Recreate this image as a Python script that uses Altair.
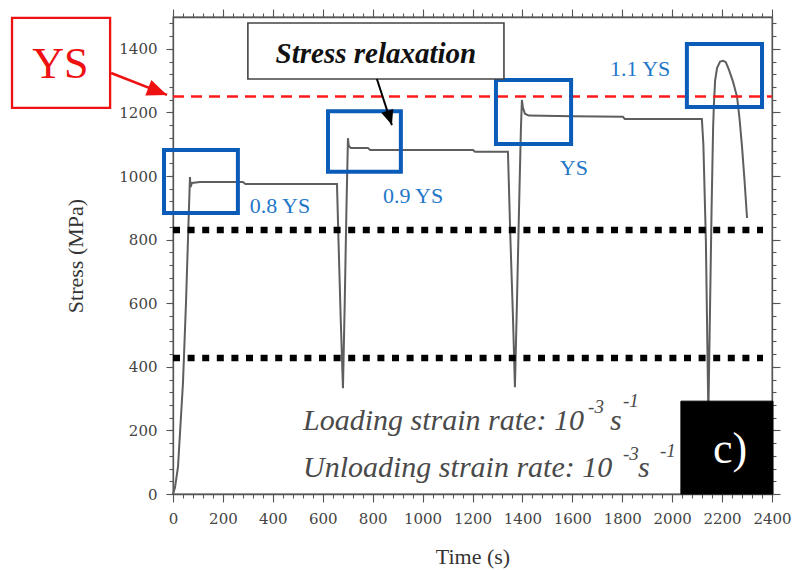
import altair as alt
import pandas as pd

# ---------------- data ----------------
time_s = [0, 8, 20, 40, 52, 62, 68, 70, 76, 108, 280, 290, 657, 663, 672, 681,
          688, 695, 701, 704, 712, 781, 790, 1202, 1210, 1342, 1352, 1362, 1370,
          1378, 1388, 1394, 1398, 1402, 1410, 1425, 1600, 1803, 1810, 2119, 2125,
          2135, 2145, 2152, 2158, 2164, 2167, 2172, 2180, 2192, 2204, 2215, 2228,
          2244, 2260, 2270, 2280, 2290, 2300]
stress_mpa = [0, 20, 85, 350, 600, 850, 997, 965, 978, 981, 981, 975, 975, 800, 550, 333,
              600, 900, 1119, 1095, 1088, 1088, 1082, 1082, 1076, 1076, 800, 560, 336,
              600, 950, 1150, 1239, 1215, 1196, 1190, 1188, 1186, 1179, 1179, 1100,
              800, 250, 600, 900, 1150, 1220, 1300, 1340, 1360, 1362, 1358, 1333,
              1296, 1249, 1180, 1091, 985, 868]

ys_level = [1250]
dotted_levels = [830, 428]
dotted_start = [0, 0]
dotted_end = [2364, 2364]

box_t0 = [-36, 621, 1294, 2059]
box_t1 = [260, 913, 1595, 2360]
box_s0 = [884, 1013, 1101, 1217]
box_s1 = [1082, 1204, 1302, 1415]
box_labels = ["0.8 YS", "0.9 YS", "YS", "1.1 YS"]
label_t = [308, 841, 1550, 1751]
label_s = [884, 915, 1003, 1314]

red_box = dict(t0=[-645], t1=[-252], s0=[1214], s1=[1497])
red_text = dict(t=[-451], s=[1308], label=["YS"])
red_arrow = dict(t0=[-248], s0=[1324], t1=[-24], s1=[1255])

relax_box = dict(t0=[300], t1=[1326], s0=[1305], s1=[1481])
relax_text = dict(t=[813], s=[1355], label=["Stress relaxation"])
relax_arrow = dict(t0=[817], s0=[1305], t1=[877], s1=[1160])

rate_text = ["Loading strain rate: 10", "Unloading strain rate: 10"]
rate_t = [521, 521]
rate_s = [201, 53]
unit_text = ["s", "s"]
unit_t = [1751, 1863]
unit_s = [201, 53]
sup_text = ["-3", "-1", "-3", "-1"]
sup_t = [1663, 1803, 1803, 1951]
sup_s = [255, 274, 107, 116]

panel_box = dict(t0=[2035], t1=[2404], s0=[0], s1=[292])
panel_text = dict(t=[2232], s=[97], label=["c)"])

x_major = list(range(0, 2401, 200))
x_minor = list(range(0, 2401, 40))
y_major = list(range(0, 1501, 200))
y_minor = list(range(0, 1501, 40))

# ---------------- chart ----------------
XS = alt.Scale(domain=[0, 2400], nice=False, zero=False)
YS = alt.Scale(domain=[0, 1500], nice=False, zero=False)
SERIF = "Liberation Serif"
AX = "#555555"

def X(f, axis=None):
    if axis is None:
        return alt.X(f, type="quantitative", scale=XS, axis=None)
    return alt.X(f, type="quantitative", scale=XS, axis=axis)

def Y(f, axis=None):
    if axis is None:
        return alt.Y(f, type="quantitative", scale=YS, axis=None)
    return alt.Y(f, type="quantitative", scale=YS, axis=axis)

ax_bottom = alt.Axis(orient="bottom", values=x_major, tickSize=8, labelFont="DejaVu Serif",
                     labelFontSize=15, labelColor="#444", labelPadding=9, format="d",
                     labelOverlap=False, labelFlush=False,
                     title="Time (s)", titleFont=SERIF, titleFontSize=22, titleFontWeight="normal",
                     titleColor="#333", titleX=299.5, titleY=62, titleBaseline="middle")
ax_bottom_minor = alt.Axis(orient="bottom", values=x_minor, tickSize=4, labels=False,
                           domain=False, title="")
ax_top = alt.Axis(orient="top", values=x_major, tickSize=8, labels=False, title="")
ax_top_minor = alt.Axis(orient="top", values=x_minor, tickSize=4, labels=False,
                        domain=False, title="")
ax_left = alt.Axis(orient="left", values=y_major, tickSize=7, labelFont="DejaVu Serif",
                   labelFontSize=15, labelColor="#444", labelPadding=9, format="d",
                   labelOverlap=False, labelFlush=False,
                   title="Stress (MPa)", titleFont=SERIF, titleFontSize=22, titleFontWeight="normal",
                   titleColor="#333", titleX=-98, titleY=238.5, titleBaseline="middle")
ax_left_minor = alt.Axis(orient="left", values=y_minor, tickSize=4, labels=False,
                         domain=False, title="")
ax_right = alt.Axis(orient="right", values=y_major, tickSize=8, labels=False, title="")
ax_right_minor = alt.Axis(orient="right", values=y_minor, tickSize=4, labels=False,
                          domain=False, title="")

curve_df = pd.DataFrame({"t": time_s, "s": stress_mpa, "i": list(range(len(time_s)))})
curve = alt.Chart(curve_df).mark_line(color="#5e5e5e", strokeWidth=2).encode(
    x=X("t", ax_bottom), y=Y("s", ax_left), order=alt.Order("i:Q"))

dot_df = pd.DataFrame({"t0": dotted_start, "t1": dotted_end, "s": dotted_levels})
dotted = alt.Chart(dot_df).mark_rule(color="black", strokeWidth=6.5, strokeDash=[7, 7.6],
                                     strokeCap="butt").encode(
    x=X("t0", ax_bottom_minor), x2="t1", y=Y("s", ax_left_minor))

ys_df = pd.DataFrame({"t0": [0], "t1": [2400], "s": ys_level})
ysline = alt.Chart(ys_df).mark_rule(color="#ff1a1a", strokeWidth=2.5, strokeDash=[11, 7]).encode(
    x=X("t0", ax_top), x2="t1", y=Y("s", ax_right))

box_df = pd.DataFrame({"t0": box_t0, "t1": box_t1, "s0": box_s0, "s1": box_s1})
boxes = alt.Chart(box_df).mark_rect(fillOpacity=0, stroke="#0b5cb8", strokeWidth=4).encode(
    x=X("t0", ax_top_minor), x2="t1", y=Y("s0", ax_right_minor), y2="s1")

lab_df = pd.DataFrame({"t": label_t, "s": label_s, "label": box_labels})
labels = alt.Chart(lab_df).mark_text(font=SERIF, fontSize=22, color="#1f78c8", align="left",
                                     baseline="alphabetic").encode(
    x=X("t"), y=Y("s"), text="label:N")

rb = alt.Chart(pd.DataFrame(red_box)).mark_rect(fill="white", stroke="#ee1111", strokeWidth=2.3).encode(
    x=X("t0"), x2="t1", y=Y("s0"), y2="s1")
rt = alt.Chart(pd.DataFrame(red_text)).mark_text(font=SERIF, fontSize=44, color="#ee1111",
                                                 align="center", baseline="alphabetic").encode(
    x=X("t"), y=Y("s"), text="label:N")
ra_df = pd.DataFrame(red_arrow)
ra = alt.Chart(ra_df).mark_rule(color="#ee1111", strokeWidth=2.6).encode(
    x=X("t0"), x2="t1", y=Y("s0"), y2="s1")
arrow_shape = "M0,0L0.42,1L-0.42,1Z"
rah = alt.Chart(ra_df).mark_point(shape=arrow_shape, filled=True, color="#ee1111", opacity=1,
                                  size=1600, angle=111).encode(x=X("t1"), y=Y("s1"))

xb = alt.Chart(pd.DataFrame(relax_box)).mark_rect(fill="white", stroke="#444", strokeWidth=1.6).encode(
    x=X("t0"), x2="t1", y=Y("s0"), y2="s1")
xt = alt.Chart(pd.DataFrame(relax_text)).mark_text(font=SERIF, fontSize=29, fontStyle="italic",
                                                   fontWeight="bold", color="#111",
                                                   align="center", baseline="alphabetic").encode(
    x=X("t"), y=Y("s"), text="label:N")
xa_df = pd.DataFrame(relax_arrow)
xa = alt.Chart(xa_df).mark_rule(color="black", strokeWidth=2).encode(
    x=X("t0"), x2="t1", y=Y("s0"), y2="s1")
xah = alt.Chart(xa_df).mark_point(shape=arrow_shape, filled=True, color="black", opacity=1,
                                  size=900, angle=162).encode(x=X("t1"), y=Y("s1"))

rate_df = pd.DataFrame({"t": rate_t, "s": rate_s, "label": rate_text})
rate = alt.Chart(rate_df).mark_text(font=SERIF, fontSize=30, fontStyle="italic", color="#4a4a4a",
                                    align="left", baseline="alphabetic").encode(
    x=X("t"), y=Y("s"), text="label:N")
unit_df = pd.DataFrame({"t": unit_t, "s": unit_s, "label": unit_text})
unit = alt.Chart(unit_df).mark_text(font=SERIF, fontSize=30, fontStyle="italic", color="#4a4a4a",
                                    align="left", baseline="alphabetic").encode(
    x=X("t"), y=Y("s"), text="label:N")
sup_df = pd.DataFrame({"t": sup_t, "s": sup_s, "label": sup_text})
sup = alt.Chart(sup_df).mark_text(font=SERIF, fontSize=19, fontStyle="italic", color="#4a4a4a",
                                  align="left", baseline="alphabetic").encode(
    x=X("t"), y=Y("s"), text="label:N")

pb = alt.Chart(pd.DataFrame(panel_box)).mark_rect(fill="black", stroke="black").encode(
    x=X("t0"), x2="t1", y=Y("s0"), y2="s1")
pt = alt.Chart(pd.DataFrame(panel_text)).mark_text(font=SERIF, fontSize=44, color="white",
                                                   align="center", baseline="alphabetic").encode(
    x=X("t"), y=Y("s"), text="label:N")

chart = alt.layer(
    curve, dotted, ysline, boxes, labels, rb, rt, ra, rah, xb, xt, xa, xah,
    rate, unit, sup, pb, pt
).resolve_axis(x="independent", y="independent").properties(
    width=599, height=477,
    autosize=alt.AutoSizeParams(type="none"),
    padding={"left": 173, "top": 17, "right": 20, "bottom": 76},
    background="white",
).configure_axis(
    grid=False, domainColor=AX, tickColor=AX, domainWidth=1.3, tickWidth=1.1
).configure_view(stroke=AX, strokeWidth=1.3)

chart.save("out.html", embed_options={"renderer": "svg", "actions": False})
